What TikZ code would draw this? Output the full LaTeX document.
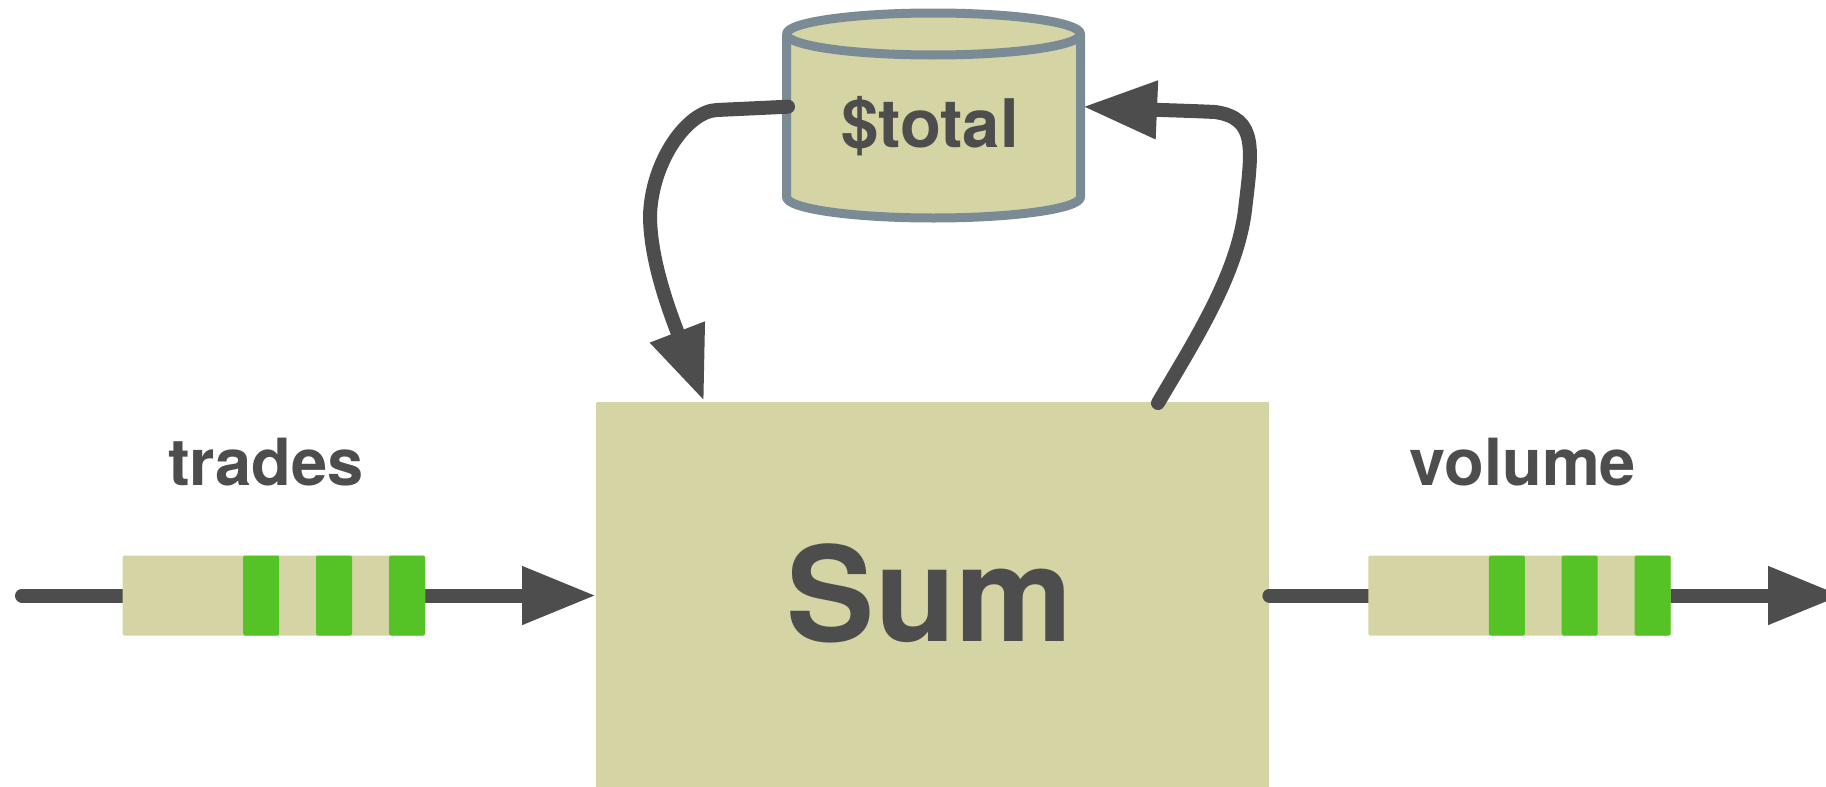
\documentclass[tikz,border=0pt]{standalone}
\usepackage{fontspec}
\setmainfont{TeX Gyre Heros}
\usetikzlibrary{arrows.meta,calc}
\definecolor{ink}{HTML}{4D4D4D}
\definecolor{sand}{HTML}{D5D4A5}
\definecolor{tick}{HTML}{55C226}
\definecolor{rim}{HTML}{7B8B96}

\begin{document}
\begin{tikzpicture}[x=1pt,y=-1pt,
  flow/.style={draw=ink, line width=14pt, line cap=round},
  tipped/.style={flow, -{Triangle[length=74pt,width=55pt]}},
  lbl/.style={text=ink, inner sep=0pt, anchor=base,
              font=\bfseries\fontsize{65}{78}\selectfont},
  bigl/.style={text=ink, inner sep=0pt, anchor=base,
              font=\bfseries\fontsize{132}{150}\selectfont},
  block/.style={fill=sand, rounded corners=1pt, inner sep=0pt},
  cyl/.style={fill=sand, draw=rim, line width=9pt, line join=round},
  stream/.pic={
    \fill[sand, rounded corners=2pt] (0,-40) rectangle (302.4,40);
    \foreach \bx in {120.6,193.4,266.4}
      \fill[tick, rounded corners=2pt] (\bx,-40) rectangle ++(36,80);
  }]

\useasboundingbox (0,0) rectangle (1826,787);

% processing block
\node[block, minimum width=673pt, minimum height=420pt, anchor=north west]
  (sum) at (596,402) {};
\node[bigl] (sumlbl) at (930,641) {Sum};

% state store drawn as a cylinder
\filldraw[cyl] (786.5,34) -- (786.5,197)
  arc[start angle=180, end angle=0, x radius=147, y radius=21] -- (1080.5,34);
\filldraw[cyl] (933.5,34) ellipse[x radius=147, y radius=21];
\node[lbl, font=\bfseries\fontsize{67}{80}\selectfont] (total) at (930,147.7) {\$total};

% ports
\coordinate (inL)   at (22,595.5);
\coordinate (outR)  at (1842,595.5);
\coordinate (tapL)  at (788,106.7);
\coordinate (tapR)  at (1083,106.7);
\coordinate (sumIn)  at ($(sum.north west)+(108,-1)$);
\coordinate (sumOut) at ($(sum.north west)+(562,1)$);

% input and output streams
\draw[tipped] (inL) -- (inL -| sum.west);
\draw[tipped] (outR -| sum.east) -- (outR);
\pic (trades) at (122.6,595.5) {stream};
\pic (volume) at (1368.3,595.5) {stream};
\node[lbl] (tradeslbl) at (266,485.7) {trades};
\node[lbl] (volumelbl) at (1522.8,485.7) {volume};

% read from and write back to the store
\draw[tipped] (tapL) -- (717,110)
  .. controls (688,111) and (652,160) .. (650,215)
  .. controls (650,255) and (665,300) .. (sumIn);
\draw[tipped] (sumOut)
  .. controls (1195,340) and (1237,275) .. (1245,210)
  .. controls (1252,150) and (1258,118) .. (1215,112)
  .. controls (1195,111) and (1160,110) .. (tapR);
\end{tikzpicture}
\end{document}
